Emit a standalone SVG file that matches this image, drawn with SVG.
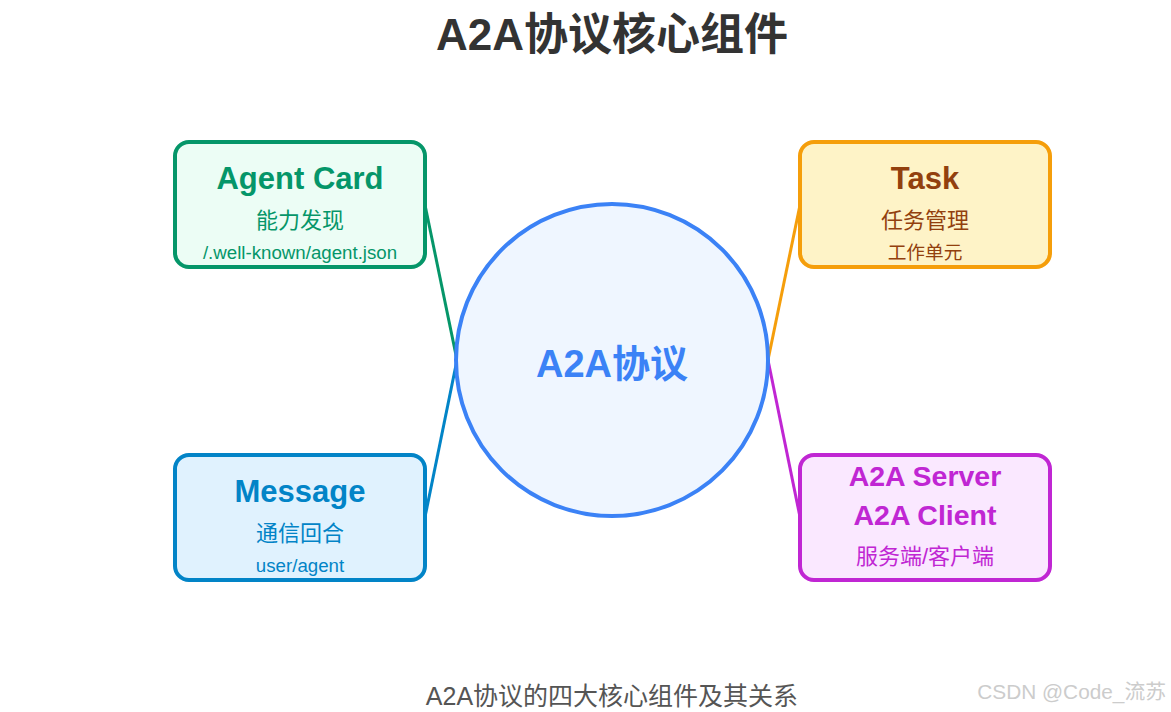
<svg xmlns="http://www.w3.org/2000/svg" width="1171" height="712" viewBox="0 0 1171 712">
<style>
text{font-family:"Liberation Sans","Noto Sans CJK SC",sans-serif;text-anchor:middle}
.t{font-weight:bold;font-size:31px}
.t2{font-weight:bold;font-size:28.5px}
.s{font-size:22px}
.d{font-size:18.7px}
.box{stroke-width:4}
.conn line{stroke-width:3}
</style>
<rect width="1171" height="712" fill="#ffffff"/>
<text x="612" y="50" font-size="44" font-weight="bold" fill="#333333">A2A协议核心组件</text>
<g class="conn" id="connectors">
<line x1="425" y1="205" x2="457" y2="360" stroke="#059669"/>
<line x1="425" y1="517" x2="457" y2="360" stroke="#0284c7"/>
<line x1="800" y1="205" x2="768" y2="360" stroke="#f59e0b"/>
<line x1="800" y1="517" x2="768" y2="360" stroke="#c026d3"/>
</g>
<g id="center">
<circle cx="612" cy="360" r="156" fill="#eff6ff" stroke="#3b82f6" stroke-width="4"/>
<text x="612" y="377" font-size="38" font-weight="bold" fill="#3b82f6">A2A协议</text>
</g>
<g id="agentcard" fill="#059669">
<rect class="box" x="175" y="142" width="250" height="125" rx="14" fill="#ecfdf5" stroke="#059669"/>
<text class="t" x="300" y="189">Agent Card</text>
<text class="s" x="300" y="228">能力发现</text>
<text class="d" x="300" y="259">/.well-known/agent.json</text>
</g>
<g id="task" fill="#92400e">
<rect class="box" x="800" y="142" width="250" height="125" rx="14" fill="#fef3c7" stroke="#f59e0b"/>
<text class="t" x="925" y="189">Task</text>
<text class="s" x="925" y="228">任务管理</text>
<text class="d" x="925" y="259">工作单元</text>
</g>
<g id="message" fill="#0284c7">
<rect class="box" x="175" y="455" width="250" height="125" rx="14" fill="#e0f2fe" stroke="#0284c7"/>
<text class="t" x="300" y="502">Message</text>
<text class="s" x="300" y="541">通信回合</text>
<text class="d" x="300" y="572">user/agent</text>
</g>
<g id="serverclient" fill="#c026d3">
<rect class="box" x="800" y="455" width="250" height="125" rx="14" fill="#fae8ff" stroke="#c026d3"/>
<text class="t2" x="925" y="486">A2A Server</text>
<text class="t2" x="925" y="525">A2A Client</text>
<text class="s" x="925" y="564">服务端/客户端</text>
</g>
<text x="612" y="705" font-size="25" fill="#555555">A2A协议的四大核心组件及其关系</text>
<text x="1166" y="699" font-size="20.8" fill="#cccccc" style="text-anchor:end">CSDN @Code_流苏</text>
</svg>
